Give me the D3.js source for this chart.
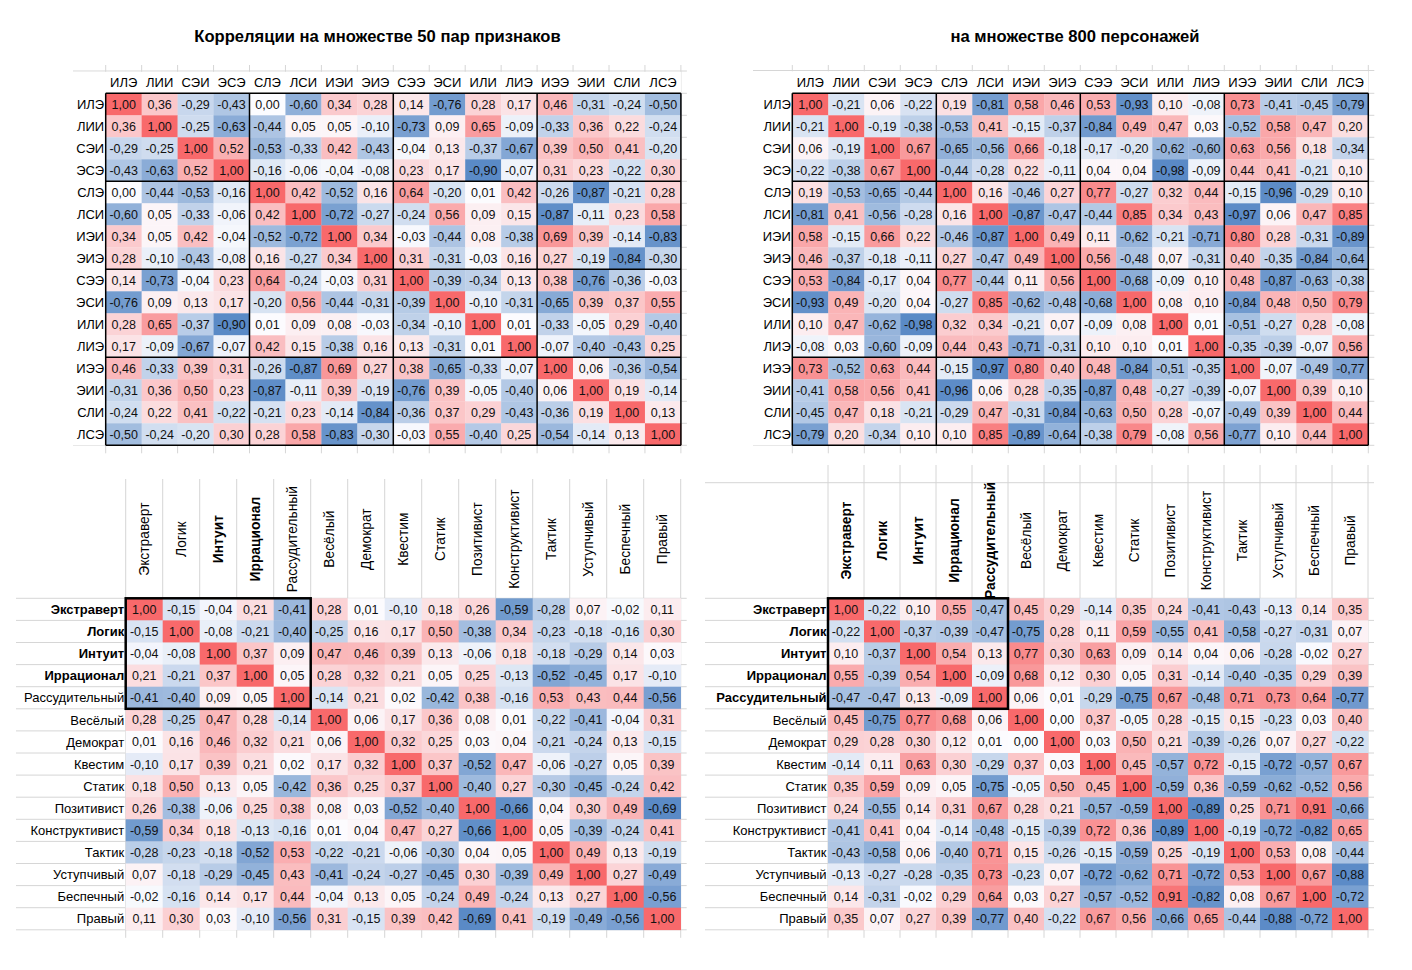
<!DOCTYPE html>
<html>
<head>
<meta charset="utf-8">
<script src="https://cdn.jsdelivr.net/npm/d3@7"></script>
<style>
  body { margin: 0; background: #fff; }
  svg { font-family: "Liberation Sans", Arial, sans-serif; }
</style>
</head>
<body>
<svg id="chart" width="1412" height="970"></svg>
<script>
"use strict";

// socionic types (top tables)
var socTypes = ['ИЛЭ','ЛИИ','СЭИ','ЭСЭ','СЛЭ','ЛСИ','ИЭИ','ЭИЭ','СЭЭ','ЭСИ','ИЛИ','ЛИЭ','ИЭЭ','ЭИИ','СЛИ','ЛСЭ'];

// traits (bottom tables)
var traits = ['Экстраверт','Логик','Интуит','Иррационал','Рассудительный','Весёлый','Демократ','Квестим','Статик','Позитивист','Конструктивист','Тактик','Уступчивый','Беспечный','Правый'];

var titleLeft = 'Корреляции на множестве 50 пар признаков';
var titleRight = 'на множестве 800 персонажей';

// top-left: 50 pairs of traits
var corrTypes50 = [
  [ 1.00, 0.36,-0.29,-0.43, 0.00,-0.60, 0.34, 0.28, 0.14,-0.76, 0.28, 0.17, 0.46,-0.31,-0.24,-0.50],
  [ 0.36, 1.00,-0.25,-0.63,-0.44, 0.05, 0.05,-0.10,-0.73, 0.09, 0.65,-0.09,-0.33, 0.36, 0.22,-0.24],
  [-0.29,-0.25, 1.00, 0.52,-0.53,-0.33, 0.42,-0.43,-0.04, 0.13,-0.37,-0.67, 0.39, 0.50, 0.41,-0.20],
  [-0.43,-0.63, 0.52, 1.00,-0.16,-0.06,-0.04,-0.08, 0.23, 0.17,-0.90,-0.07, 0.31, 0.23,-0.22, 0.30],
  [ 0.00,-0.44,-0.53,-0.16, 1.00, 0.42,-0.52, 0.16, 0.64,-0.20, 0.01, 0.42,-0.26,-0.87,-0.21, 0.28],
  [-0.60, 0.05,-0.33,-0.06, 0.42, 1.00,-0.72,-0.27,-0.24, 0.56, 0.09, 0.15,-0.87,-0.11, 0.23, 0.58],
  [ 0.34, 0.05, 0.42,-0.04,-0.52,-0.72, 1.00, 0.34,-0.03,-0.44, 0.08,-0.38, 0.69, 0.39,-0.14,-0.83],
  [ 0.28,-0.10,-0.43,-0.08, 0.16,-0.27, 0.34, 1.00, 0.31,-0.31,-0.03, 0.16, 0.27,-0.19,-0.84,-0.30],
  [ 0.14,-0.73,-0.04, 0.23, 0.64,-0.24,-0.03, 0.31, 1.00,-0.39,-0.34, 0.13, 0.38,-0.76,-0.36,-0.03],
  [-0.76, 0.09, 0.13, 0.17,-0.20, 0.56,-0.44,-0.31,-0.39, 1.00,-0.10,-0.31,-0.65, 0.39, 0.37, 0.55],
  [ 0.28, 0.65,-0.37,-0.90, 0.01, 0.09, 0.08,-0.03,-0.34,-0.10, 1.00, 0.01,-0.33,-0.05, 0.29,-0.40],
  [ 0.17,-0.09,-0.67,-0.07, 0.42, 0.15,-0.38, 0.16, 0.13,-0.31, 0.01, 1.00,-0.07,-0.40,-0.43, 0.25],
  [ 0.46,-0.33, 0.39, 0.31,-0.26,-0.87, 0.69, 0.27, 0.38,-0.65,-0.33,-0.07, 1.00, 0.06,-0.36,-0.54],
  [-0.31, 0.36, 0.50, 0.23,-0.87,-0.11, 0.39,-0.19,-0.76, 0.39,-0.05,-0.40, 0.06, 1.00, 0.19,-0.14],
  [-0.24, 0.22, 0.41,-0.22,-0.21, 0.23,-0.14,-0.84,-0.36, 0.37, 0.29,-0.43,-0.36, 0.19, 1.00, 0.13],
  [-0.50,-0.24,-0.20, 0.30, 0.28, 0.58,-0.83,-0.30,-0.03, 0.55,-0.40, 0.25,-0.54,-0.14, 0.13, 1.00]
];

// top-right: 800 characters
var corrTypes800 = [
  [ 1.00,-0.21, 0.06,-0.22, 0.19,-0.81, 0.58, 0.46, 0.53,-0.93, 0.10,-0.08, 0.73,-0.41,-0.45,-0.79],
  [-0.21, 1.00,-0.19,-0.38,-0.53, 0.41,-0.15,-0.37,-0.84, 0.49, 0.47, 0.03,-0.52, 0.58, 0.47, 0.20],
  [ 0.06,-0.19, 1.00, 0.67,-0.65,-0.56, 0.66,-0.18,-0.17,-0.20,-0.62,-0.60, 0.63, 0.56, 0.18,-0.34],
  [-0.22,-0.38, 0.67, 1.00,-0.44,-0.28, 0.22,-0.11, 0.04, 0.04,-0.98,-0.09, 0.44, 0.41,-0.21, 0.10],
  [ 0.19,-0.53,-0.65,-0.44, 1.00, 0.16,-0.46, 0.27, 0.77,-0.27, 0.32, 0.44,-0.15,-0.96,-0.29, 0.10],
  [-0.81, 0.41,-0.56,-0.28, 0.16, 1.00,-0.87,-0.47,-0.44, 0.85, 0.34, 0.43,-0.97, 0.06, 0.47, 0.85],
  [ 0.58,-0.15, 0.66, 0.22,-0.46,-0.87, 1.00, 0.49, 0.11,-0.62,-0.21,-0.71, 0.80, 0.28,-0.31,-0.89],
  [ 0.46,-0.37,-0.18,-0.11, 0.27,-0.47, 0.49, 1.00, 0.56,-0.48, 0.07,-0.31, 0.40,-0.35,-0.84,-0.64],
  [ 0.53,-0.84,-0.17, 0.04, 0.77,-0.44, 0.11, 0.56, 1.00,-0.68,-0.09, 0.10, 0.48,-0.87,-0.63,-0.38],
  [-0.93, 0.49,-0.20, 0.04,-0.27, 0.85,-0.62,-0.48,-0.68, 1.00, 0.08, 0.10,-0.84, 0.48, 0.50, 0.79],
  [ 0.10, 0.47,-0.62,-0.98, 0.32, 0.34,-0.21, 0.07,-0.09, 0.08, 1.00, 0.01,-0.51,-0.27, 0.28,-0.08],
  [-0.08, 0.03,-0.60,-0.09, 0.44, 0.43,-0.71,-0.31, 0.10, 0.10, 0.01, 1.00,-0.35,-0.39,-0.07, 0.56],
  [ 0.73,-0.52, 0.63, 0.44,-0.15,-0.97, 0.80, 0.40, 0.48,-0.84,-0.51,-0.35, 1.00,-0.07,-0.49,-0.77],
  [-0.41, 0.58, 0.56, 0.41,-0.96, 0.06, 0.28,-0.35,-0.87, 0.48,-0.27,-0.39,-0.07, 1.00, 0.39, 0.10],
  [-0.45, 0.47, 0.18,-0.21,-0.29, 0.47,-0.31,-0.84,-0.63, 0.50, 0.28,-0.07,-0.49, 0.39, 1.00, 0.44],
  [-0.79, 0.20,-0.34, 0.10, 0.10, 0.85,-0.89,-0.64,-0.38, 0.79,-0.08, 0.56,-0.77, 0.10, 0.44, 1.00]
];

// bottom-left: traits, 50 pairs
var corrTraits50 = [
  [ 1.00,-0.15,-0.04, 0.21,-0.41, 0.28, 0.01,-0.10, 0.18, 0.26,-0.59,-0.28, 0.07,-0.02, 0.11],
  [-0.15, 1.00,-0.08,-0.21,-0.40,-0.25, 0.16, 0.17, 0.50,-0.38, 0.34,-0.23,-0.18,-0.16, 0.30],
  [-0.04,-0.08, 1.00, 0.37, 0.09, 0.47, 0.46, 0.39, 0.13,-0.06, 0.18,-0.18,-0.29, 0.14, 0.03],
  [ 0.21,-0.21, 0.37, 1.00, 0.05, 0.28, 0.32, 0.21, 0.05, 0.25,-0.13,-0.52,-0.45, 0.17,-0.10],
  [-0.41,-0.40, 0.09, 0.05, 1.00,-0.14, 0.21, 0.02,-0.42, 0.38,-0.16, 0.53, 0.43, 0.44,-0.56],
  [ 0.28,-0.25, 0.47, 0.28,-0.14, 1.00, 0.06, 0.17, 0.36, 0.08, 0.01,-0.22,-0.41,-0.04, 0.31],
  [ 0.01, 0.16, 0.46, 0.32, 0.21, 0.06, 1.00, 0.32, 0.25, 0.03, 0.04,-0.21,-0.24, 0.13,-0.15],
  [-0.10, 0.17, 0.39, 0.21, 0.02, 0.17, 0.32, 1.00, 0.37,-0.52, 0.47,-0.06,-0.27, 0.05, 0.39],
  [ 0.18, 0.50, 0.13, 0.05,-0.42, 0.36, 0.25, 0.37, 1.00,-0.40, 0.27,-0.30,-0.45,-0.24, 0.42],
  [ 0.26,-0.38,-0.06, 0.25, 0.38, 0.08, 0.03,-0.52,-0.40, 1.00,-0.66, 0.04, 0.30, 0.49,-0.69],
  [-0.59, 0.34, 0.18,-0.13,-0.16, 0.01, 0.04, 0.47, 0.27,-0.66, 1.00, 0.05,-0.39,-0.24, 0.41],
  [-0.28,-0.23,-0.18,-0.52, 0.53,-0.22,-0.21,-0.06,-0.30, 0.04, 0.05, 1.00, 0.49, 0.13,-0.19],
  [ 0.07,-0.18,-0.29,-0.45, 0.43,-0.41,-0.24,-0.27,-0.45, 0.30,-0.39, 0.49, 1.00, 0.27,-0.49],
  [-0.02,-0.16, 0.14, 0.17, 0.44,-0.04, 0.13, 0.05,-0.24, 0.49,-0.24, 0.13, 0.27, 1.00,-0.56],
  [ 0.11, 0.30, 0.03,-0.10,-0.56, 0.31,-0.15, 0.39, 0.42,-0.69, 0.41,-0.19,-0.49,-0.56, 1.00]
];

// bottom-right: traits, 800 characters
var corrTraits800 = [
  [ 1.00,-0.22, 0.10, 0.55,-0.47, 0.45, 0.29,-0.14, 0.35, 0.24,-0.41,-0.43,-0.13, 0.14, 0.35],
  [-0.22, 1.00,-0.37,-0.39,-0.47,-0.75, 0.28, 0.11, 0.59,-0.55, 0.41,-0.58,-0.27,-0.31, 0.07],
  [ 0.10,-0.37, 1.00, 0.54, 0.13, 0.77, 0.30, 0.63, 0.09, 0.14, 0.04, 0.06,-0.28,-0.02, 0.27],
  [ 0.55,-0.39, 0.54, 1.00,-0.09, 0.68, 0.12, 0.30, 0.05, 0.31,-0.14,-0.40,-0.35, 0.29, 0.39],
  [-0.47,-0.47, 0.13,-0.09, 1.00, 0.06, 0.01,-0.29,-0.75, 0.67,-0.48, 0.71, 0.73, 0.64,-0.77],
  [ 0.45,-0.75, 0.77, 0.68, 0.06, 1.00, 0.00, 0.37,-0.05, 0.28,-0.15, 0.15,-0.23, 0.03, 0.40],
  [ 0.29, 0.28, 0.30, 0.12, 0.01, 0.00, 1.00, 0.03, 0.50, 0.21,-0.39,-0.26, 0.07, 0.27,-0.22],
  [-0.14, 0.11, 0.63, 0.30,-0.29, 0.37, 0.03, 1.00, 0.45,-0.57, 0.72,-0.15,-0.72,-0.57, 0.67],
  [ 0.35, 0.59, 0.09, 0.05,-0.75,-0.05, 0.50, 0.45, 1.00,-0.59, 0.36,-0.59,-0.62,-0.52, 0.56],
  [ 0.24,-0.55, 0.14, 0.31, 0.67, 0.28, 0.21,-0.57,-0.59, 1.00,-0.89, 0.25, 0.71, 0.91,-0.66],
  [-0.41, 0.41, 0.04,-0.14,-0.48,-0.15,-0.39, 0.72, 0.36,-0.89, 1.00,-0.19,-0.72,-0.82, 0.65],
  [-0.43,-0.58, 0.06,-0.40, 0.71, 0.15,-0.26,-0.15,-0.59, 0.25,-0.19, 1.00, 0.53, 0.08,-0.44],
  [-0.13,-0.27,-0.28,-0.35, 0.73,-0.23, 0.07,-0.72,-0.62, 0.71,-0.72, 0.53, 1.00, 0.67,-0.88],
  [ 0.14,-0.31,-0.02, 0.29, 0.64, 0.03, 0.27,-0.57,-0.52, 0.91,-0.82, 0.08, 0.67, 1.00,-0.72],
  [ 0.35, 0.07, 0.27, 0.39,-0.77, 0.40,-0.22, 0.67, 0.56,-0.66, 0.65,-0.44,-0.88,-0.72, 1.00]
];

var svg = d3.select('#chart');
var fmt = function(v) { return v.toFixed(2).replace('.', ','); };
var gridColor = '#d6d6d6';

svg.append('text').attr('x', 377.5).attr('y', 42).attr('text-anchor', 'middle')
  .style('font-size', '16.6px').style('font-weight', 'bold').text(titleLeft);
svg.append('text').attr('x', 1075).attr('y', 42).attr('text-anchor', 'middle')
  .style('font-size', '16.6px').style('font-weight', 'bold').text(titleRight);

function drawPanel(cfg) {
    var n = cfg.labels.length;
    var g = svg.append('g');
    var x = d3.scaleBand().domain(d3.range(n)).range([cfg.x0, cfg.x0 + n * cfg.cw]);
    var y = d3.scaleBand().domain(d3.range(n)).range([cfg.y0, cfg.y0 + n * cfg.rh]);
    var right = x.range()[1], bottom = y.range()[1];

    var flat = d3.merge(cfg.matrix);
    var color = d3.scaleLinear().domain([d3.min(flat), 0, 1])
        .range(['#5A8AC6', '#FCFCFF', '#F8696B']);

    // spreadsheet grid
    var colEdges = d3.range(n + 1).map(function(k) { return cfg.x0 + k * cfg.cw; });
    var rowEdges = d3.range(n + 1).map(function(k) { return cfg.y0 + k * cfg.rh; });
    var hLines = cfg.headerLine ? rowEdges.concat([cfg.headerTop]) : rowEdges;
    g.selectAll('line.v').data(colEdges).enter().append('line')
        .attr('x1', function(d) { return d; }).attr('x2', function(d) { return d; })
        .attr('y1', cfg.gridTop).attr('y2', bottom + 8)
        .attr('stroke', gridColor).attr('stroke-width', 1);
    g.selectAll('line.h').data(hLines).enter().append('line')
        .attr('x1', cfg.labelX0).attr('x2', right + 6)
        .attr('y1', function(d) { return d; }).attr('y2', function(d) { return d; })
        .attr('stroke', gridColor).attr('stroke-width', 1);

    if (cfg.whiteHeader) {
        g.append('rect').attr('x', cfg.labelX0).attr('y', cfg.headerTop + 0.8)
            .attr('width', right - cfg.labelX0).attr('height', bottom - cfg.headerTop - 0.8)
            .attr('fill', '#fff');
    }

    // cells
    var cells = [];
    cfg.matrix.forEach(function(row, i) {
        row.forEach(function(v, j) { cells.push({i: i, j: j, v: v}); });
    });
    g.selectAll('rect.cell').data(cells).enter().append('rect')
        .attr('x', function(d) { return x(d.j); })
        .attr('y', function(d) { return y(d.i); })
        .attr('width', x.bandwidth() + 0.3).attr('height', y.bandwidth() + 0.3)
        .attr('fill', function(d) { return color(d.v); });
    g.selectAll('text.val').data(cells).enter().append('text')
        .attr('x', function(d) { return x(d.j) + x.bandwidth() / 2; })
        .attr('y', function(d) { return y(d.i) + y.bandwidth() / 2; })
        .attr('dy', '0.36em').attr('text-anchor', 'middle')
        .style('font-size', '12.5px').attr('fill', '#111')
        .text(function(d) { return fmt(d.v); });

    // row labels
    g.selectAll('text.row').data(cfg.labels).enter().append('text')
        .attr('x', cfg.x0 - 1.5)
        .attr('y', function(d, i) { return y(i) + y.bandwidth() / 2; })
        .attr('dy', '0.36em').attr('text-anchor', 'end')
        .style('font-size', '13px')
        .style('font-weight', function(d, i) { return cfg.boldRows(i) ? 'bold' : 'normal'; })
        .text(function(d) { return d; });

    // column labels
    var hMid = (cfg.headerTop + cfg.y0) / 2;
    g.selectAll('text.col').data(cfg.labels).enter().append('text')
        .attr('transform', function(d, i) {
            var cx = x(i) + x.bandwidth() / 2;
            return cfg.rotate ? 'translate(' + cx + ',' + hMid + ') rotate(-90)'
                              : 'translate(' + cx + ',' + hMid + ')';
        })
        .attr('dy', '0.36em').attr('text-anchor', 'middle')
        .style('font-size', cfg.rotate ? '13.8px' : '13px')
        .style('font-weight', function(d, i) { return cfg.boldCols(i) ? 'bold' : 'normal'; })
        .text(function(d) { return d; });

    // black borders
    if (cfg.block) {
        var edges = d3.range(0, n + 1, cfg.block);
        g.selectAll('line.bv').data(edges).enter().append('line')
            .attr('x1', function(k) { return cfg.x0 + k * cfg.cw; })
            .attr('x2', function(k) { return cfg.x0 + k * cfg.cw; })
            .attr('y1', cfg.y0).attr('y2', bottom)
            .attr('stroke', '#000').attr('stroke-width', 1.5);
        g.selectAll('line.bh').data(edges).enter().append('line')
            .attr('y1', function(k) { return cfg.y0 + k * cfg.rh; })
            .attr('y2', function(k) { return cfg.y0 + k * cfg.rh; })
            .attr('x1', cfg.x0).attr('x2', right)
            .attr('stroke', '#000').attr('stroke-width', 1.5);
    }
    if (cfg.box) {
        g.append('rect').attr('x', cfg.x0).attr('y', cfg.y0)
            .attr('width', cfg.box * cfg.cw).attr('height', cfg.box * cfg.rh)
            .attr('fill', 'none').attr('stroke', '#000').attr('stroke-width', 2.5);
    }
}

drawPanel({labels: socTypes, matrix: corrTypes50, labelX0: 73, x0: 105.7, cw: 35.95,
    headerTop: 71, gridTop: 65, y0: 93.3, rh: 22, whiteHeader: true, headerLine: true,
    rotate: false, block: 4,
    boldRows: function() { return false; }, boldCols: function() { return false; }});

drawPanel({labels: socTypes, matrix: corrTypes800, labelX0: 753, x0: 792.3, cw: 36,
    headerTop: 70.5, gridTop: 65, y0: 93.3, rh: 22, whiteHeader: true, headerLine: true,
    rotate: false, block: 4,
    boldRows: function() { return false; }, boldCols: function() { return false; }});

drawPanel({labels: traits, matrix: corrTraits50, labelX0: 16, x0: 125.7, cw: 37,
    headerTop: 480, gridTop: 479, y0: 598.3, rh: 22.1, whiteHeader: false, headerLine: false,
    rotate: true, box: 5,
    boldRows: function(i) { return i < 4; }, boldCols: function(i) { return i === 2 || i === 3; }});

drawPanel({labels: traits, matrix: corrTraits800, labelX0: 705, x0: 828, cw: 36,
    headerTop: 482.7, gridTop: 465, y0: 598.3, rh: 22.1, whiteHeader: false, headerLine: true,
    rotate: true, box: 5,
    boldRows: function(i) { return i < 5; }, boldCols: function(i) { return i < 5; }});
</script>
</body>
</html>
